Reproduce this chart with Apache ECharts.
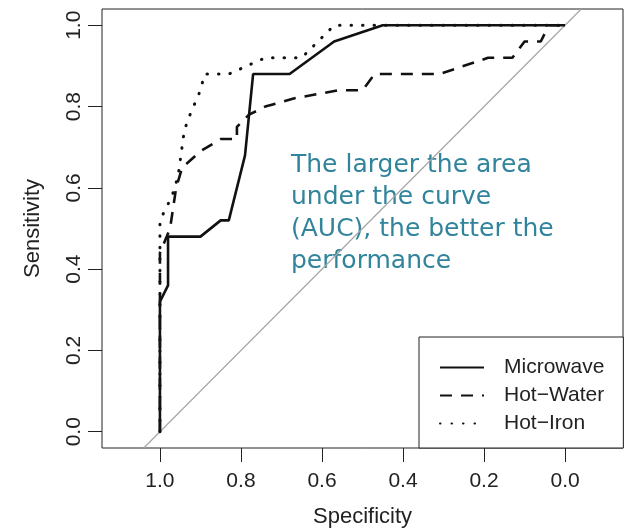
<!DOCTYPE html>
<html>
<head>
<meta charset="utf-8">
<script src="https://cdn.jsdelivr.net/npm/echarts@6/dist/echarts.min.js"></script>
<style>
  html, body { margin: 0; padding: 0; background: #fff; }
  #chart { width: 625px; height: 530px; }
</style>
</head>
<body>
<div id="chart"></div>
<script>
  // ROC curves, specificity on x (reversed), sensitivity on y
  const tickValues = [0, 0.2, 0.4, 0.6, 0.8, 1.0];

  const microwaveSpec = [1.0, 1.0, 0.98, 0.98, 0.90, 0.85, 0.83, 0.79, 0.77, 0.68, 0.57, 0.45, 0.0];
  const microwaveSens = [0.0, 0.32, 0.36, 0.48, 0.48, 0.52, 0.52, 0.68, 0.88, 0.88, 0.96, 1.0, 1.0];

  const hotWaterSpec = [1.0, 1.0, 0.975, 0.96, 0.945, 0.90, 0.85, 0.81, 0.81, 0.78, 0.74, 0.67, 0.56, 0.50, 0.47, 0.31, 0.19, 0.13, 0.10, 0.06, 0.04, 0.0];
  const hotWaterSens = [0.0, 0.44, 0.50, 0.60, 0.65, 0.69, 0.72, 0.72, 0.75, 0.78, 0.80, 0.82, 0.84, 0.84, 0.88, 0.88, 0.92, 0.92, 0.96, 0.96, 1.0, 1.0];

  const hotIronSpec = [1.0, 1.0, 0.97, 0.955, 0.94, 0.93, 0.90, 0.89, 0.83, 0.74, 0.65, 0.57, 0.0];
  const hotIronSens = [0.0, 0.52, 0.58, 0.63, 0.74, 0.77, 0.84, 0.88, 0.88, 0.92, 0.92, 1.0, 1.0];

  // chance line: specificity + sensitivity = 1
  const diagSpec = [1.04, -0.04];
  const diagSens = [-0.04, 1.04];

  const seriesNames = ['Microwave', 'Hot\u2212Water', 'Hot\u2212Iron'];
  const note = 'The larger the area\nunder the curve\n(AUC), the better the\nperformance';

  function pairs(xs, ys) {
    return xs.map(function (x, i) { return [x, ys[i]]; });
  }

  let myChart = echarts.init(document.getElementById('chart'));
  const axisFont = { fontFamily: 'Liberation Sans', fontSize: 21, color: '#222' };

  let option = {
    animation: false,
    grid: {
      left: 102, top: 9, right: 2, bottom: 82,
      outerBoundsMode: 'none',
      show: true,
      borderColor: '#222',
      borderWidth: 1
    },
    legend: {
      data: seriesNames,
      orient: 'vertical',
      left: 419,
      top: 337,
      padding: [20, 19, 14, 20],
      itemWidth: 44,
      itemHeight: 14,
      itemGap: 7,
      backgroundColor: '#fff',
      borderColor: '#222',
      borderWidth: 1,
      borderRadius: 0,
      itemStyle: { color: 'transparent', borderColor: 'transparent', borderWidth: 0 },
      textStyle: { fontFamily: 'Liberation Sans', fontSize: 21, color: '#222', padding: [0, 0, 0, 15] },
      selectedMode: false
    },
    graphic: [{
      type: 'text',
      left: 291,
      top: 149,
      z: 1,
      style: {
        text: note,
        fill: '#31849B',
        font: '25px "DejaVu Sans"',
        lineHeight: 32
      }
    }],
    xAxis: {
      type: 'value',
      inverse: true,
      min: -0.143,
      max: 1.143,
      name: 'Specificity',
      nameLocation: 'middle',
      nameGap: 58,
      nameTextStyle: { fontFamily: 'Liberation Sans', fontSize: 22, color: '#222' },
      axisLine: { show: false, onZero: false },
      splitLine: { show: false },
      axisTick: { show: true, length: 14, customValues: tickValues, lineStyle: { color: '#222' } },
      axisLabel: Object.assign({ customValues: tickValues, margin: 23, formatter: function (v) { return v.toFixed(1); } }, axisFont)
    },
    yAxis: {
      type: 'value',
      min: -0.04,
      max: 1.04,
      name: 'Sensitivity',
      nameLocation: 'middle',
      nameGap: 58,
      nameTextStyle: { fontFamily: 'Liberation Sans', fontSize: 22, color: '#222' },
      axisLine: { show: false, onZero: false },
      splitLine: { show: false },
      axisTick: { show: true, length: 14, customValues: tickValues, lineStyle: { color: '#222' } },
      axisLabel: Object.assign({ customValues: tickValues, margin: 17, rotate: 90, formatter: function (v) { return v.toFixed(1); } }, axisFont)
    },
    series: [
      {
        name: 'chance',
        type: 'line',
        symbol: 'none',
        silent: true,
        z: 3,
        lineStyle: { color: '#a6a6a6', width: 1.2 },
        data: pairs(diagSpec, diagSens)
      },
      {
        name: seriesNames[0],
        type: 'line',
        symbol: 'none',
        lineStyle: { color: '#111', width: 2.6, type: 'solid' },
        data: pairs(microwaveSpec, microwaveSens)
      },
      {
        name: seriesNames[1],
        type: 'line',
        symbol: 'none',
        lineStyle: { color: '#111', width: 2.6, type: [12, 9] },
        data: pairs(hotWaterSpec, hotWaterSens)
      },
      {
        name: seriesNames[2],
        type: 'line',
        symbol: 'none',
        lineStyle: { color: '#111', width: 3, type: [0.5, 11], cap: 'round' },
        data: pairs(hotIronSpec, hotIronSens)
      }
    ]
  };
  myChart.setOption(option);
  window.addEventListener('resize', function () { myChart.resize(); });
</script>
</body>
</html>
